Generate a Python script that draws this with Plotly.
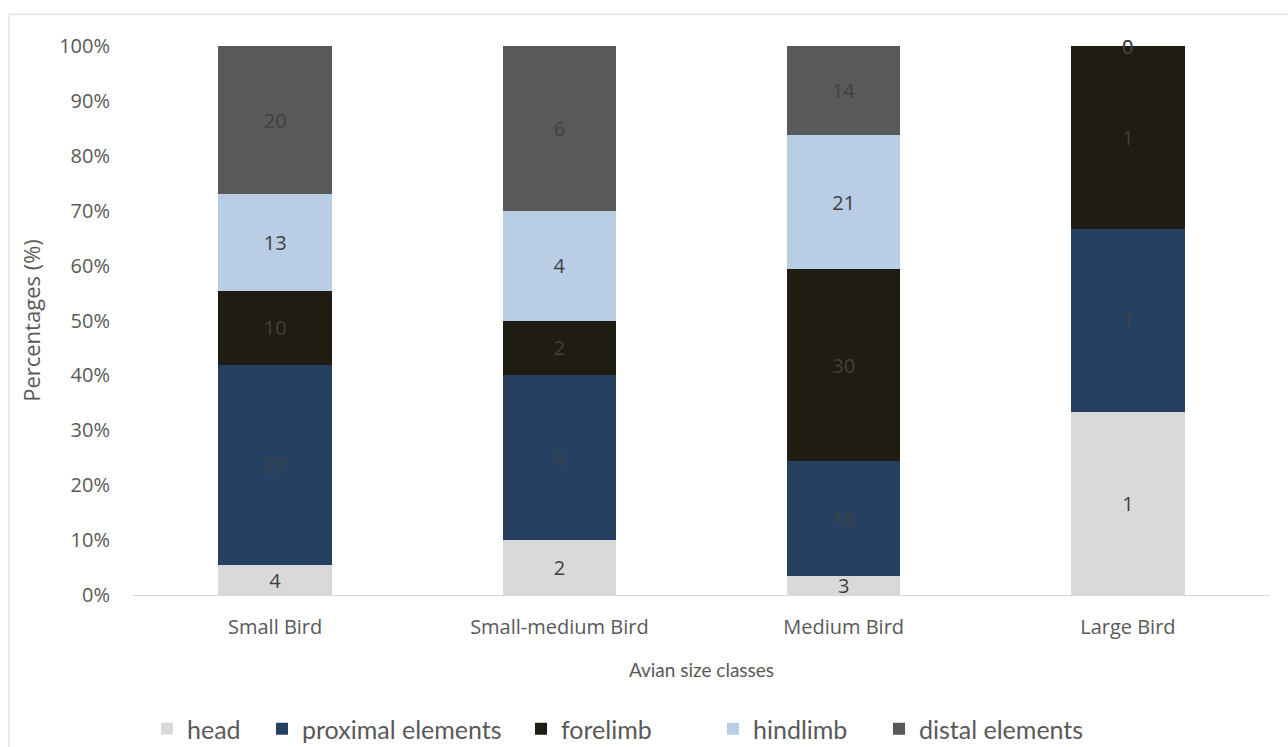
import plotly.graph_objects as go

# Avian size classes and skeletal element counts per class
size_classes = ["Small Bird", "Small-medium Bird", "Medium Bird", "Large Bird"]
element_groups = ["head", "proximal elements", "forelimb", "hindlimb", "distal elements"]
head = [4, 2, 3, 1]
proximal_elements = [27, 6, 18, 1]
forelimb = [10, 2, 30, 1]
hindlimb = [13, 4, 21, 0]
distal_elements = [20, 6, 14, 0]
y_ticks = [0, 10, 20, 30, 40, 50, 60, 70, 80, 90, 100]

series_counts = [head, proximal_elements, forelimb, hindlimb, distal_elements]
colors = ["#D9D9D9", "#254061", "#1F1C12", "#B9CDE5", "#595959"]
# left edge (px) of each legend entry along the bottom row
legend_left_px = [161, 276, 535, 727, 893]

totals = [sum(s[i] for s in series_counts) for i in range(len(size_classes))]

W, H = 1288, 747
SANS = "Open Sans, sans-serif"
NARROW = "Lato, sans-serif"
LABEL_COLOR = "#404040"
AXIS_COLOR = "#595959"
LEGEND_SYMBOL_OFFSET = 14

fig = go.Figure()
cumulative = [0.0] * len(size_classes)
zero_labels = []
for k, (name, counts, color) in enumerate(zip(element_groups, series_counts, colors)):
    pct = [100.0 * c / t for c, t in zip(counts, totals)]
    legend_id = "legend" if k == 0 else f"legend{k + 1}"
    fig.add_trace(go.Bar(
        name=name,
        x=size_classes,
        y=pct,
        text=[str(c) if c > 0 else "" for c in counts],
        textposition="inside",
        insidetextanchor="middle",
        textangle=0,
        constraintext="none",
        textfont=dict(family=SANS, size=20, color=LABEL_COLOR),
        marker=dict(color=color, line=dict(width=0)),
        hoverinfo="skip",
        legend=legend_id,
    ))
    fig.update_layout({legend_id: dict(
        orientation="h", xref="container", yref="container",
        x=(legend_left_px[k] - LEGEND_SYMBOL_OFFSET) / W, xanchor="left",
        y=1 - 729 / H, yanchor="middle",
        font=dict(family=NARROW, size=25, color=AXIS_COLOR),
        bgcolor="rgba(0,0,0,0)", itemclick=False, itemdoubleclick=False,
    )})
    for i, c in enumerate(counts):
        cumulative[i] += pct[i]
        if c == 0:
            zero_labels.append((size_classes[i], cumulative[i], c))

# zero-height segments still carry a count label at the top of their stack
for cls, ypos, c in zero_labels:
    fig.add_annotation(x=cls, y=ypos, text=str(c), showarrow=False,
                       font=dict(family=SANS, size=20, color=LABEL_COLOR),
                       xanchor="center", yanchor="middle")

# chart-area frame
fig.add_shape(type="rect", xref="paper", yref="paper",
              x0=-0.109, x1=1.2, y0=-0.5, y1=1.058,
              line=dict(color="#D9D9D9", width=1), fillcolor="rgba(0,0,0,0)",
              layer="below")

fig.update_layout(
    barmode="stack",
    bargap=0.6,
    width=W, height=H,
    margin=dict(l=133, r=18, t=46, b=152),
    paper_bgcolor="white", plot_bgcolor="white",
    font=dict(family=SANS, size=20, color=AXIS_COLOR),
    showlegend=True,
    xaxis=dict(
        title=dict(text="Avian size classes", font=dict(family=NARROW, size=19, color=AXIS_COLOR), standoff=24),
        showline=True, linecolor="#D9D9D9", linewidth=1,
        showgrid=False, ticks="", ticklabelstandoff=14,
        tickfont=dict(family=SANS, size=20, color=AXIS_COLOR),
        fixedrange=True,
    ),
    yaxis=dict(
        title=dict(text="Percentages (%)", font=dict(family=SANS, size=22, color=AXIS_COLOR), standoff=12),
        range=[0, 100], tickvals=y_ticks, ticktext=[f"{v}%" for v in y_ticks],
        showgrid=False, zeroline=False, showline=False, ticks="",
        ticklabelstandoff=22,
        tickfont=dict(family=SANS, size=20, color=AXIS_COLOR),
        fixedrange=True,
    ),
)

fig.write_html("out.html")
